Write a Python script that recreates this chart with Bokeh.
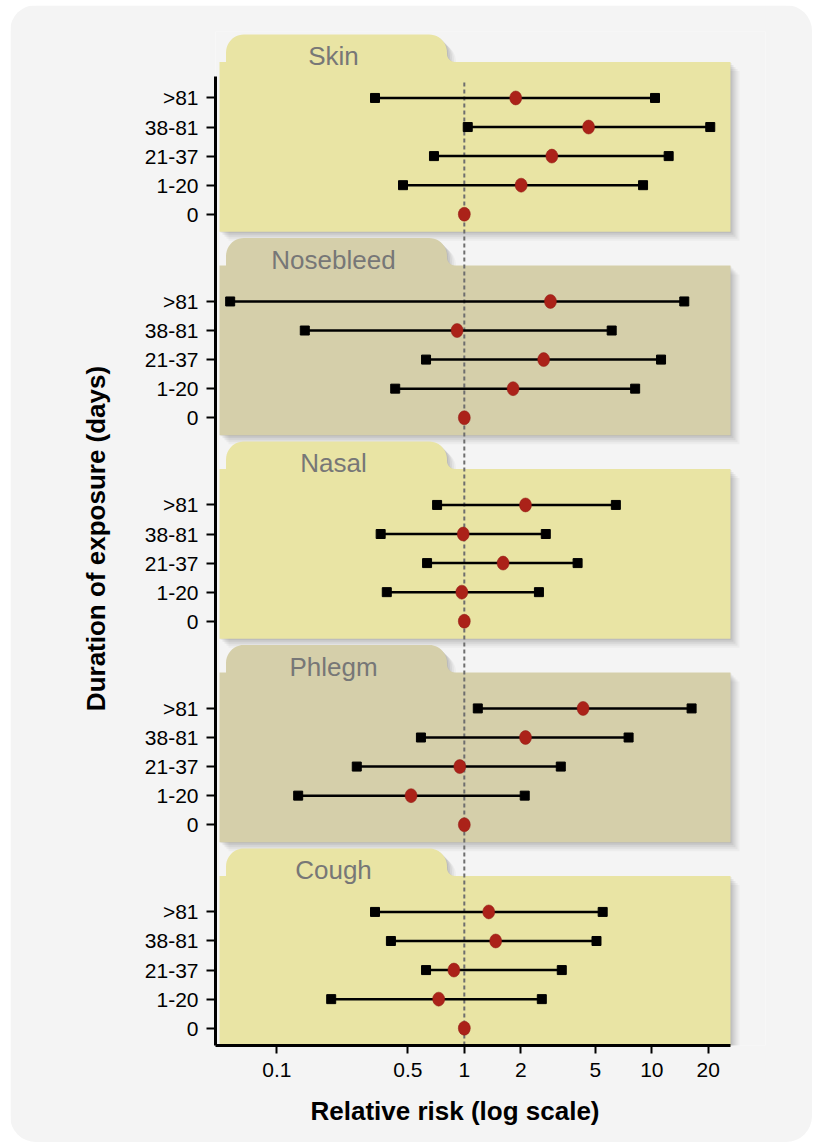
import math
import numpy as np
from bokeh.plotting import figure
from bokeh.models import Range1d, FixedTicker, CustomJSTickFormatter, Title
from bokeh.embed import file_html
from bokeh.resources import INLINE
from bokeh.core.properties import value

NAN = float("nan")

# ---------------- data ----------------
exposure = ["0", "1-20", "21-37", "38-81", ">81"]
outcomes = ["Cough", "Phlegm", "Nasal", "Nosebleed", "Skin"]   # bottom -> top

cough_rr = [1.0, 0.73, 0.88, 1.47, 1.35]
cough_lo = [NAN, 0.195, 0.625, 0.406, 0.334]
cough_hi = [NAN, 2.59, 3.31, 5.07, 5.47]

phlegm_rr = [1.0, 0.52, 0.946, 2.12, 4.30]
phlegm_lo = [NAN, 0.130, 0.267, 0.587, 1.18]
phlegm_hi = [NAN, 2.10, 3.27, 7.52, 16.3]

nasal_rr = [1.0, 0.97, 1.61, 0.987, 2.12]
nasal_lo = [NAN, 0.386, 0.633, 0.358, 0.716]
nasal_hi = [NAN, 2.50, 4.02, 2.72, 6.43]

nosebleed_rr = [1.0, 1.82, 2.65, 0.915, 2.88]
nosebleed_lo = [NAN, 0.428, 0.625, 0.141, 0.0564]
nosebleed_hi = [NAN, 8.15, 11.2, 6.11, 14.9]

skin_rr = [1.0, 2.01, 2.93, 4.60, 1.88]
skin_lo = [NAN, 0.471, 0.689, 1.043, 0.334]
skin_hi = [NAN, 8.98, 12.3, 20.5, 10.4]

x_ticks = [0.1, 0.5, 1, 2, 5, 10, 20]

series = [
    (cough_rr, cough_lo, cough_hi),
    (phlegm_rr, phlegm_lo, phlegm_hi),
    (nasal_rr, nasal_lo, nasal_hi),
    (nosebleed_rr, nosebleed_lo, nosebleed_hi),
    (skin_rr, skin_lo, skin_hi),
]
panel_colors = ["#e9e4a4", "#d5cfaa", "#e9e4a4", "#d5cfaa", "#e9e4a4"]

# ---------------- layout helpers ----------------
STEP = 7            # row units between groups
UNIT = 29.07        # px per row unit
PX_DEC = 187.5      # px per decade
FRAME_L = 215       # page px of frame left edge
X_MIN = 0.0471


def px_x(px):
    return X_MIN * 10 ** ((px - FRAME_L) / PX_DEC)


X_MAX = px_x(765)
X_AXIS_END = px_x(730)
Y_MIN = -0.595
Y_MAX = Y_MIN + 1014 / UNIT
Y_AXIS_TOP = 32 + 21.3 / UNIT

p = figure(width=802, height=1137, x_axis_type="log",
           x_range=Range1d(X_MIN, X_MAX), y_range=Range1d(Y_MIN, Y_MAX),
           output_backend="svg", toolbar_location=None,
           min_border_left=205, min_border_right=47,
           min_border_top=26, min_border_bottom=97)
p.background_fill_color = "#f4f4f4"
p.border_fill_color = "#f4f4f4"
p.outline_line_color = None
p.xgrid.visible = False
p.ygrid.visible = False
p.styles = {"border-radius": "26px", "overflow": "hidden",
            "margin-left": "10px", "margin-top": "5px"}


def outline(base):
    top_row = base + 4
    body_b = base - 17.5 / UNIT
    body_t = top_row + 36 / UNIT
    tab_t = top_row + 63.5 / UNIT
    L, R = 219, 730
    tl, tr = 225.5, 446.5
    r, f = 18, 8
    pts = [(L, body_b), (L, body_t), (tl, body_t), (tl, tab_t - r / UNIT)]
    for a in np.linspace(180, 90, 12)[1:]:
        t = math.radians(a)
        pts.append((tl + r + r * math.cos(t), tab_t - r / UNIT + r / UNIT * math.sin(t)))
    for a in np.linspace(90, 0, 12):
        t = math.radians(a)
        pts.append((tr - r + r * math.cos(t), tab_t - r / UNIT + r / UNIT * math.sin(t)))
    for a in np.linspace(180, 270, 8)[1:]:
        t = math.radians(a)
        pts.append((tr + f + f * math.cos(t), body_t + f / UNIT + f / UNIT * math.sin(t)))
    pts += [(R, body_t), (R, body_b)]
    return pts


# shadows
for dx, dy, al in [(1, 1, 0.07), (3, 3, 0.06), (5, 5, 0.05), (7, 7, 0.04), (9, 9, 0.03)]:
    xs, ys = [], []
    for g in range(len(outcomes)):
        pts = outline(g * STEP)
        xs.append([px_x(a + dx) for a, b in pts])
        ys.append([b - dy / UNIT for a, b in pts])
    p.patches(xs, ys, fill_color="black", fill_alpha=al, line_color=None)

# panels
xs, ys = [], []
for g in range(len(outcomes)):
    pts = outline(g * STEP)
    xs.append([px_x(a) for a, b in pts])
    ys.append([b for a, b in pts])
p.patches(xs, ys, fill_color=panel_colors, line_color=None)

# panel titles
p.text(x=[px_x(333)] * len(outcomes),
       y=[g * STEP + 4 + 41.5 / UNIT for g in range(len(outcomes))],
       text=outcomes, text_align="center", text_baseline="middle",
       text_font=value("Liberation Sans"), text_font_size="26px",
       text_color="#777777")

# reference line at RR = 1
p.segment(x0=[1], x1=[1], y0=[Y_MIN], y1=[32 + 15.6 / UNIT],
          line_color="#6e6e6e", line_width=2, line_dash="4 3")

# data
ys_all, rr_all, lo_all, hi_all = [], [], [], []
for g, (rr, lo, hi) in enumerate(series):
    for i in range(len(exposure)):
        ys_all.append(g * STEP + i)
        rr_all.append(rr[i])
        lo_all.append(lo[i])
        hi_all.append(hi[i])

p.segment(x0=lo_all, x1=hi_all, y0=ys_all, y1=ys_all, line_color="black", line_width=2.5)
p.scatter(x=lo_all + hi_all, y=ys_all + ys_all, marker="square", size=9,
          fill_color="black", line_color="black")
p.ellipse(x=rr_all, y=ys_all, width=12, height=14, width_units="screen",
          height_units="screen", fill_color="#ab2219", line_color="#8e1a14", line_width=0.5)

# axes
ax = p.xaxis[0]
ax.ticker = FixedTicker(ticks=x_ticks, minor_ticks=[])
ax.formatter = CustomJSTickFormatter(code="return tick.toString();")
ax.bounds = (X_MIN, X_AXIS_END)
ax.axis_line_width = 3
ax.axis_line_color = "black"
ax.major_tick_line_width = 2
ax.major_tick_out = 8
ax.major_tick_in = 0
ax.minor_tick_line_color = None
ax.major_label_standoff = 9
ax.major_label_text_font = "Liberation Sans"
ax.major_label_text_font_size = "21px"
ax.major_label_text_color = "black"

ay = p.yaxis[0]
ticks_y = [g * STEP + i for g in range(len(outcomes)) for i in range(len(exposure))]
ay.ticker = FixedTicker(ticks=ticks_y, minor_ticks=[])
ay.major_label_overrides = {g * STEP + i: exposure[i]
                            for g in range(len(outcomes)) for i in range(len(exposure))}
ay.bounds = (Y_MIN, Y_AXIS_TOP)
ay.axis_line_width = 3
ay.axis_line_color = "black"
ay.major_tick_line_width = 2
ay.major_tick_out = 9
ay.major_tick_in = 0
ay.minor_tick_line_color = None
ay.major_label_standoff = 8
ay.major_label_text_font = "Liberation Sans"
ay.major_label_text_font_size = "21px"
ay.major_label_text_color = "black"
ay.axis_label = "Duration of exposure (days)"
ay.axis_label_text_font = "Liberation Sans"
ay.axis_label_text_font_size = "26px"
ay.axis_label_text_font_style = "bold"
ay.axis_label_text_color = "black"
ay.axis_label_standoff = 31

p.add_layout(Title(text="Relative risk (log scale)", align="left", offset=95,
                   text_font="Liberation Sans", text_font_size="26px",
                   text_font_style="bold", text_color="black", standoff=28),
             "below")

open("out.html", "w").write(file_html(p, INLINE))
